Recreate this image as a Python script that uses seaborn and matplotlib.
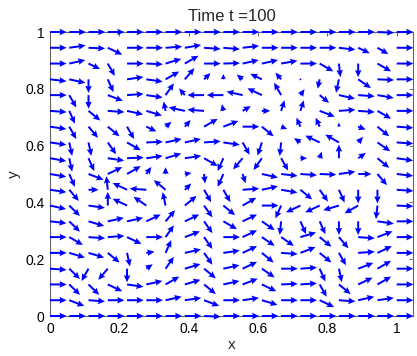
# quiver plot of the spin field at t = 100
import numpy as np
import seaborn as sns
from matplotlib import pyplot as plt

sns.set_style("white")
plt.rcParams["font.family"] = ["Liberation Sans", "DejaVu Sans"]

# -----------------------------------------------------------------
# data: 19 x 19 grid, spacing 1/18
# one list of arrow angles (degrees, 0 = +x, 90 = +y) per row, from y = 1 down to y = 0
# -----------------------------------------------------------------
x_vals = np.linspace(0, 1, 19)
y_vals = np.linspace(1, 0, 19)

ang_r00 = [0, 0, 0, 0, 0, 0, 0, 0, 0, 0, 0, 0, 0, 0, 0, 0, 0, -3, 0]
ang_r01 = [0, 10, -3, -30, 0, 0, 5, 12, -5, -6, 8, 0, 0, 0, 0, -8, -30, -35, 0]
ang_r02 = [0, 15, -30, -65, 0, -3, 20, 35, 0, 2, 15, 15, 12, 0, -35, -85, -90, -35, 0]
ang_r03 = [-8, -15, -90, -70, 10, -10, 35, 55, 50, 90, 135, 150, 125, 90, -100, -100, -40, -3, 0]
ang_r04 = [0, -65, -90, -25, 5, -10, 60, 125, 180, 180, 165, 150, 115, 60, -45, -15, -5, -12, 0]
ang_r05 = [-5, -70, -45, -5, -15, -20, 100, 165, 175, 100, 35, 0, 75, 75, -25, 5, -5, -35, 0]
ang_r06 = [-10, -65, -55, -45, -65, -30, 45, 55, 35, 25, 0, -45, -25, 110, 110, 90, -25, -45, -5]
ang_r07 = [-10, -80, -80, -60, -35, 3, 15, 15, 5, -10, -65, -105, -95, 140, 150, 145, 55, -40, -5]
ang_r08 = [-12, -80, -70, -10, 3, 10, 20, 10, -35, -110, -125, -120, -65, 0, 75, 90, 40, -45, -10]
ang_r09 = [-12, -70, -25, 30, 35, 60, 90, 10, -85, -110, -75, -15, -8, -5, -3, 10, 0, -55, -8]
ang_r10 = [-10, -55, 0, 95, 150, 175, 135, 50, -65, -65, 5, 15, -12, -45, -60, -70, -90, -90, -5]
ang_r11 = [-15, -50, -10, 90, 150, 140, 100, 45, -60, -45, 35, 0, -110, -150, -150, -160, -145, -95, -3]
ang_r12 = [-8, -50, -20, 15, 15, 30, 55, 30, -60, -35, 30, -40, -95, -70, -70, -90, -90, -10, 0]
ang_r13 = [0, -35, -5, 5, -30, 0, 60, 25, -60, 0, 30, -40, -40, 20, -45, -55, -5, 25, 0]
ang_r14 = [0, -20, -20, -45, -80, 10, 70, 15, -60, 10, 30, -45, -5, 25, -45, -65, 5, 30, 0]
ang_r15 = [-5, -50, -115, -125, -90, 40, 60, 20, -45, 15, 30, -40, 0, 5, -70, -80, 25, 35, 0]
ang_r16 = [0, -50, -50, -30, -10, 15, 35, 20, -45, 15, 25, -30, 3, 5, -65, -45, 30, 35, 0]
ang_r17 = [0, -25, -5, 0, 0, 0, 15, 10, -25, 0, 10, -20, 0, 0, -30, -5, 15, 10, 0]
ang_r18 = [0, 0, 0, 0, 0, 0, 0, 0, -3, 0, 0, 0, 0, 0, 0, 0, 0, 0, 0]

# arrows that are shorter than the rest (row, column, relative length)
short_arrows = [
    (1, 16, 0.8), (1, 17, 0.8), (2, 2, 0.8),
    (3, 8, 0.6), (3, 9, 0.4), (3, 10, 0.5), (3, 11, 0.8), (3, 12, 0.6), (3, 13, 0.1), (3, 14, 0.7),
    (4, 7, 0.6), (4, 13, 0.5), (4, 14, 0.8),
    (5, 6, 0.7), (5, 9, 0.5), (5, 10, 0.6), (5, 11, 0.5), (5, 12, 0.8), (5, 13, 0.8),
    (6, 5, 0.7), (6, 6, 0.5), (6, 7, 0.6), (6, 12, 0.4), (6, 13, 0.7), (6, 14, 0.7), (6, 15, 0.3), (6, 16, 0.5),
    (7, 13, 0.5), (7, 16, 0.5),
    (8, 13, 0.4), (8, 14, 0.5), (8, 16, 0.6),
    (9, 5, 0.6), (9, 6, 0.5), (9, 7, 0.4), (9, 8, 0.7), (9, 10, 0.7), (9, 16, 0.8),
    (10, 2, 0.6), (10, 7, 0.6),
    (14, 5, 0.5), (15, 5, 0.5),
]

arrow_len = 0.048

angles = np.array([ang_r00, ang_r01, ang_r02, ang_r03, ang_r04, ang_r05, ang_r06,
                   ang_r07, ang_r08, ang_r09, ang_r10, ang_r11, ang_r12, ang_r13,
                   ang_r14, ang_r15, ang_r16, ang_r17, ang_r18], dtype=float)
mag = np.ones_like(angles)
for r, c, m in short_arrows:
    mag[r, c] = m

X, Y = np.meshgrid(x_vals, y_vals)
U = arrow_len * mag * np.cos(np.deg2rad(angles))
V = arrow_len * mag * np.sin(np.deg2rad(angles))

# -----------------------------------------------------------------
# plot
# -----------------------------------------------------------------
fig = plt.figure(figsize=(4.17, 3.56), dpi=100)
ax = fig.add_axes([50 / 417, 1 - 316 / 356, 363 / 417, 284 / 356])

q = ax.quiver(X, Y, U, V, angles="xy", scale_units="xy", scale=1,
              color="blue", width=0.0055, headwidth=3.3, headlength=3.6,
              headaxislength=3.2, zorder=3)
q.set_clip_on(False)

ax.set_xlim(0, 1.047)
ax.set_ylim(0, 1)
ax.set_xticks([0, 0.2, 0.4, 0.6, 0.8, 1])
ax.set_xticklabels(["0", "0.2", "0.4", "0.6", "0.8", "1"])
ax.set_yticks([0, 0.2, 0.4, 0.6, 0.8, 1])
ax.set_yticklabels(["0", "0.2", "0.4", "0.6", "0.8", "1"])
ax.tick_params(direction="in", length=3, width=0.6, colors="#555555",
               labelcolor="black", labelsize=10, top=True, right=True, pad=4)
for s in ax.spines.values():
    s.set_color("#666666")
    s.set_linewidth(0.8)

ax.set_title("Time t =100", fontsize=12, pad=8)
ax.set_xlabel("x", fontsize=11, labelpad=2)
ax.set_ylabel("y", fontsize=11, labelpad=3)

fig.savefig("out.png", dpi=100)
